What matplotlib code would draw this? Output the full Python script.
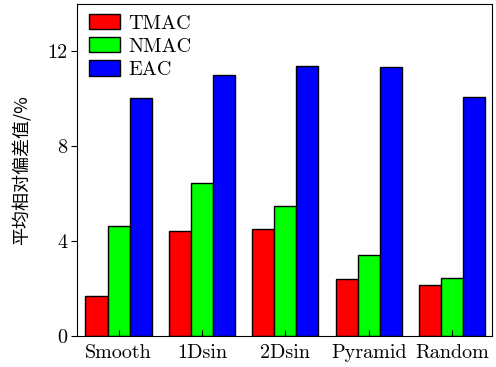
import numpy as np
import matplotlib
matplotlib.use('Agg')
from matplotlib import pyplot as plt

# data
categories = ['Smooth', '1Dsin', '2Dsin', 'Pyramid', 'Random']
tmac = [1.70, 4.43, 4.49, 2.40, 2.15]
nmac = [4.64, 6.45, 5.46, 3.42, 2.43]
eac = [10.05, 10.98, 11.40, 11.34, 10.09]
series_names = ['TMAC', 'NMAC', 'EAC']
yticks = [0, 4, 8, 12]

plt.rcParams['font.family'] = ['cmr10', 'Noto Sans CJK SC', 'DejaVu Sans']
plt.rcParams['axes.formatter.use_mathtext'] = True

fig = plt.figure(figsize=(4.96, 3.67), dpi=100)
ax = fig.add_axes([0.155, 0.0845, 0.837, 0.905])

x = np.arange(len(categories))
w = 0.265
colors = ['#ff0000', '#00ff00', '#0000ff']
for i, vals in enumerate([tmac, nmac, eac]):
    ax.bar(x + (i - 1) * w, vals, width=w, color=colors[i],
           edgecolor='black', linewidth=1.0, label=series_names[i])

ax.set_xlim(-0.5, 4.48)
ax.set_ylim(0, 14)
ax.set_xticks(x)
ax.set_xticklabels(categories, fontsize=14.5)
ax.set_yticks(yticks)
ax.set_yticklabels([str(t) for t in yticks], fontsize=14.5)
ax.tick_params(axis='x', direction='in', length=4, pad=6)
ax.tick_params(axis='y', direction='out', length=4, pad=3)
ax.set_ylabel('平均相对偏差值/%', fontsize=13,
              family=['Noto Sans CJK SC', 'DejaVu Sans'], labelpad=12)

leg = ax.legend(loc='upper left', fontsize=14.5, frameon=False,
                handlelength=1.55, handleheight=0.8, labelspacing=0.22,
                handletextpad=0.4, borderaxespad=0.1,
                bbox_to_anchor=(0.005, 1.0))

fig.savefig('out.png', dpi=100)
